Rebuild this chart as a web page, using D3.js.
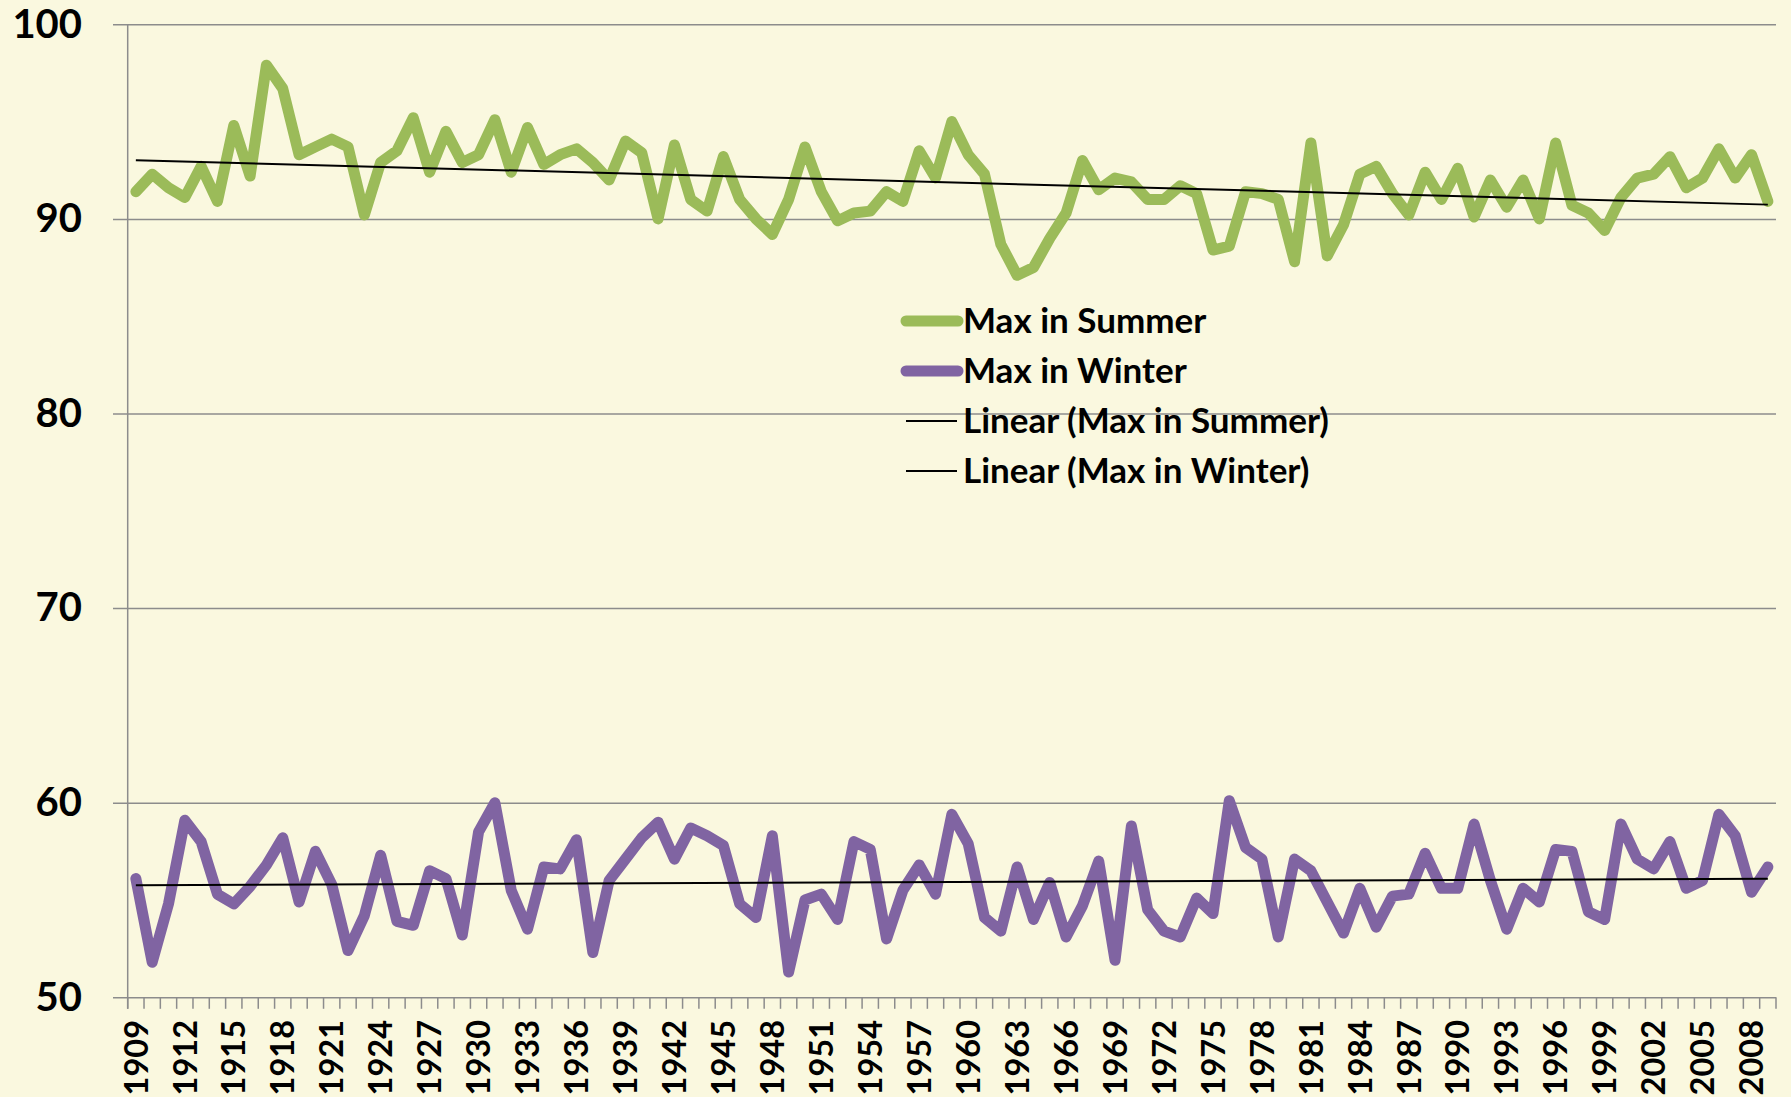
<!doctype html>
<html>
<head>
  <script src="https://d3js.org/d3.v7.min.js"></script>
  <style>
  body {
    margin: 0;
    background: #faf8df;
  }

  svg {
    font-family: Lato, "Open Sans", sans-serif;
    font-weight: bold;
  }

  .grid line {
    stroke: #8c8c8c;
    stroke-width: 1.5;
  }

  .grid path {
    display: none;
  }

  .grid text {
    font-family: Lato, "Open Sans", sans-serif;
    font-weight: bold;
    font-size: 40px;
    fill: #000;
  }

  .xlab text {
    font-size: 32.5px;
    fill: #000;
  }

  .legend text {
    font-size: 35px;
    fill: #000;
  }
  </style>
</head>
<body>
  <script>
    // yearly maximum temperatures, 1909 - 2009
    var years = d3.range(1909, 2010);

    var summer = [
      91.4, 92.3, 91.6, 91.1, 92.7, 90.9, 94.8, 92.2, 97.9, 96.7,
      93.3, 93.7, 94.1, 93.7, 90.2, 92.9, 93.5, 95.2, 92.4, 94.5,
      92.9, 93.3, 95.1, 92.4, 94.7, 92.8, 93.3, 93.6, 92.9, 92.0,
      94.0, 93.4, 90.0, 93.8, 91.0, 90.4, 93.2, 91.0, 90.0, 89.2,
      91.0, 93.7, 91.4, 89.9, 90.3, 90.4, 91.4, 90.9, 93.5, 92.1,
      95.0, 93.3, 92.3, 88.7, 87.1, 87.5, 89.0, 90.3, 93.0, 91.5,
      92.1, 91.9, 91.0, 91.0, 91.7, 91.3, 88.4, 88.6, 91.4, 91.3,
      91.0, 87.8, 93.9, 88.1, 89.7, 92.3, 92.7, 91.3, 90.2, 92.4,
      91.0, 92.6, 90.1, 92.0, 90.6, 92.0, 90.0, 93.9, 90.7, 90.3,
      89.4, 91.1, 92.1, 92.3, 93.2, 91.6, 92.1, 93.6, 92.1, 93.3,
      90.9
    ];

    var winter = [
      56.1, 51.8, 54.8, 59.1, 58.0, 55.3, 54.8, 55.7, 56.8, 58.2,
      54.9, 57.5, 55.8, 52.4, 54.2, 57.3, 53.9, 53.7, 56.5, 56.1,
      53.2, 58.5, 60.0, 55.5, 53.5, 56.7, 56.6, 58.1, 52.3, 56.0,
      57.1, 58.2, 59.0, 57.1, 58.7, 58.3, 57.8, 54.8, 54.1, 58.3,
      51.3, 55.0, 55.3, 54.0, 58.0, 57.6, 53.0, 55.5, 56.8, 55.3,
      59.4, 57.9, 54.1, 53.4, 56.7, 54.0, 55.9, 53.1, 54.7, 57.0,
      51.9, 58.8, 54.5, 53.4, 53.1, 55.1, 54.3, 60.1, 57.7, 57.1,
      53.1, 57.1, 56.5, 54.9, 53.3, 55.6, 53.6, 55.2, 55.3, 57.4,
      55.6, 55.6, 58.9, 56.0, 53.5, 55.6, 54.9, 57.6, 57.5, 54.4,
      54.0, 58.9, 57.1, 56.6, 58.0, 55.6, 56.0, 59.4, 58.3, 55.4,
      56.7
    ];

    var yTicks = [50, 60, 70, 80, 90, 100];
    var xLabels = years.filter(function(d){return (d - 1909) % 3 === 0;});

    var seriesNames = ["Max in Summer", "Max in Winter",
                       "Linear (Max in Summer)", "Linear (Max in Winter)"];

    var width = 1791,
        height = 1097,
        plotLeft = 127.7,
        plotRight = 1776,
        plotTop = 24.3,
        plotBottom = 997.3;

    var x = d3.scaleBand()
        .domain(years)
        .range([plotLeft, plotRight]);

    var y = d3.scaleLinear()
        .domain([50, 100])
        .range([plotBottom, plotTop]);

    function cx(d){ return x(d) + x.bandwidth() / 2; }

    var svg = d3.select("body").append("svg")
        .attr("width", width)
        .attr("height", height);

    svg.append("rect")
        .attr("width", width)
        .attr("height", height)
        .attr("fill", "#faf8df");

    // gridlines + y labels (ticks stick out left of the axis)
    svg.append("g")
        .attr("class", "grid")
        .attr("transform", "translate(113,0)")
        .call(d3.axisLeft(y)
          .tickValues(yTicks)
          .tickSize(-(plotRight - 113))
          .tickPadding(31));

    // vertical axis line
    svg.append("line")
        .attr("x1", plotLeft).attr("x2", plotLeft)
        .attr("y1", plotTop).attr("y2", plotBottom + 11.5)
        .attr("stroke", "#8c8c8c")
        .attr("stroke-width", 1.5);

    // category tick marks, between the years
    var bounds = years.map(function(d){return x(d);}).concat([plotRight]);
    svg.append("g").selectAll("line")
        .data(bounds)
      .enter().append("line")
        .attr("x1", function(d){return d;})
        .attr("x2", function(d){return d;})
        .attr("y1", plotBottom)
        .attr("y2", plotBottom + 11.5)
        .attr("stroke", "#8c8c8c")
        .attr("stroke-width", 1.5);

    svg.append("g")
        .attr("class", "xlab")
      .selectAll("text")
        .data(xLabels)
      .enter().append("text")
        .attr("transform", function(d){return "translate(" + cx(d) + "," + 1020 + ") rotate(-90)";})
        .attr("text-anchor", "end")
        .attr("dy", "0.36em")
        .text(function(d){return d;});

    // trend lines by least squares
    function trend(values){
      var n = values.length,
          mx = d3.mean(values, function(d, i){return i;}),
          my = d3.mean(values),
          sxy = d3.sum(values, function(d, i){return (i - mx) * (d - my);}),
          sxx = d3.sum(values, function(d, i){return (i - mx) * (i - mx);}),
          b = sxy / sxx,
          a = my - b * mx;
      return [{year: years[0], v: a}, {year: years[n - 1], v: a + b * (n - 1)}];
    }

    var line = d3.line()
        .x(function(d, i){return cx(years[i]);})
        .y(function(d){return y(d);});

    var tline = d3.line()
        .x(function(d){return cx(d.year);})
        .y(function(d){return y(d.v);});

    svg.append("path")
        .datum(summer)
        .attr("d", line)
        .attr("fill", "none")
        .attr("stroke", "#9bbb59")
        .attr("stroke-width", 11)
        .attr("stroke-linejoin", "round")
        .attr("stroke-linecap", "round");

    svg.append("path")
        .datum(winter)
        .attr("d", line)
        .attr("fill", "none")
        .attr("stroke", "#8064a2")
        .attr("stroke-width", 11)
        .attr("stroke-linejoin", "round")
        .attr("stroke-linecap", "round");

    [summer, winter].forEach(function(s){
      svg.append("path")
          .datum(trend(s))
          .attr("d", tline)
          .attr("fill", "none")
          .attr("stroke", "#000")
          .attr("stroke-width", 2);
    });

    // legend
    var legend = svg.append("g")
        .attr("class", "legend");

    var styles = [
      {c: "#9bbb59", w: 11, x1: 906, x2: 958},
      {c: "#8064a2", w: 11, x1: 906, x2: 958},
      {c: "#000", w: 2, x1: 906, x2: 957},
      {c: "#000", w: 2, x1: 906, x2: 957}
    ];

    seriesNames.forEach(function(name, i){
      var ly = 321 + i * 50,
          st = styles[i];
      legend.append("line")
          .attr("x1", st.x1).attr("x2", st.x2)
          .attr("y1", ly).attr("y2", ly)
          .attr("stroke", st.c)
          .attr("stroke-width", st.w)
          .attr("stroke-linecap", st.w > 2 ? "round" : "butt");
      legend.append("text")
          .attr("x", 963)
          .attr("y", ly)
          .attr("dy", "0.35em")
          .text(name);
    });
  </script>
</body>
</html>
